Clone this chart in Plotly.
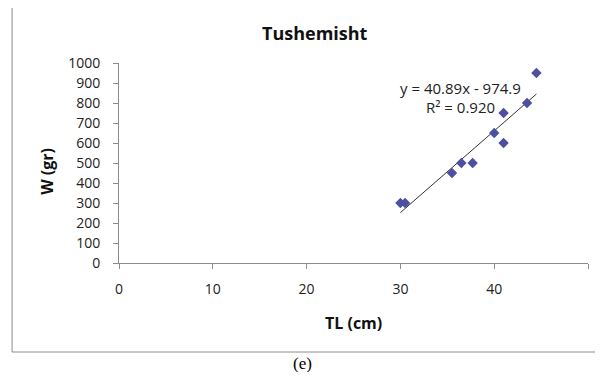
import plotly.graph_objects as go

TL = [30, 30.5, 35.5, 36.5, 37.7, 40, 41, 41, 43.5, 44.5]
W = [300, 300, 450, 500, 500, 650, 750, 600, 800, 950]
slope = 40.89
intercept = -974.9
r2 = 0.920
x_ticks = [0, 10, 20, 30, 40, 50]
y_ticks = [0, 100, 200, 300, 400, 500, 600, 700, 800, 900, 1000]

fit_x = [min(TL), max(TL)]
fit_y = [slope * v + intercept for v in fit_x]

fig = go.Figure()
fig.add_trace(go.Scatter(x=fit_x, y=fit_y, mode="lines",
                         line=dict(color="#333333", width=1), hoverinfo="skip"))
fig.add_trace(go.Scatter(x=TL, y=W, mode="markers",
                         marker=dict(symbol="diamond", size=8, color="#4D4FA0")))

font_main = "Open Sans, Lato, sans-serif"
# the page body adds an 8px margin, so the figure is sized to fit inside the window
fig.update_layout(
    width=587, height=364,
    margin=dict(l=111, r=7, t=55, b=109),
    paper_bgcolor="white", plot_bgcolor="white",
    showlegend=False,
    font=dict(family=font_main, size=14, color="#222222"),
    xaxis=dict(range=[0, 50], tickvals=x_ticks, showgrid=False, zeroline=False,
               showline=True, linecolor="#8c8c8c", linewidth=1,
               ticks="outside", ticklen=5, tickcolor="#8c8c8c",
               ticklabelstandoff=8),
    yaxis=dict(range=[0, 1000], tickvals=y_ticks, showgrid=False, zeroline=False,
               showline=True, linecolor="#8c8c8c", linewidth=1,
               ticks="outside", ticklen=5, tickcolor="#8c8c8c",
               ticklabelstandoff=10),
)

fig.add_annotation(x=0.729, y=0.875, xref="paper", yref="paper",
                   text=f"y = {slope}x - {abs(intercept)}", showarrow=False,
                   font=dict(size=15, family=font_main), xanchor="center", yanchor="middle")
fig.add_annotation(x=0.729, y=0.78, xref="paper", yref="paper",
                   text=f"R² = {r2:.3f}", showarrow=False,
                   font=dict(size=15, family=font_main), xanchor="center", yanchor="middle")
fig.add_annotation(x=0.418, y=1.15, xref="paper", yref="paper",
                   text="<b>Tushemisht</b>", showarrow=False,
                   font=dict(size=18, family=font_main, color="#111"), xanchor="center", yanchor="middle")
fig.add_annotation(x=0.499, y=-0.30, xref="paper", yref="paper",
                   text="<b>TL (cm)</b>", showarrow=False,
                   font=dict(size=16, family=font_main, color="#111"), xanchor="center", yanchor="middle")
fig.add_annotation(x=-0.154, y=0.46, xref="paper", yref="paper",
                   text="<b>W (gr)</b>", showarrow=False, textangle=-90,
                   font=dict(size=16, family=font_main, color="#111"), xanchor="center", yanchor="middle")
fig.add_annotation(x=0.392, y=-0.5, xref="paper", yref="paper",
                   text="(e)", showarrow=False,
                   font=dict(size=17, family="Liberation Serif, Times New Roman, serif", color="#000"),
                   xanchor="center", yanchor="middle")

fig.add_shape(type="rect", xref="paper", yref="paper",
              x0=-0.228, x1=1.06, y0=-0.445, y1=1.284,
              line=dict(color="#8c8c8c", width=1), fillcolor="rgba(0,0,0,0)", layer="below")

fig.write_html("out.html", config={"displayModeBar": False})
